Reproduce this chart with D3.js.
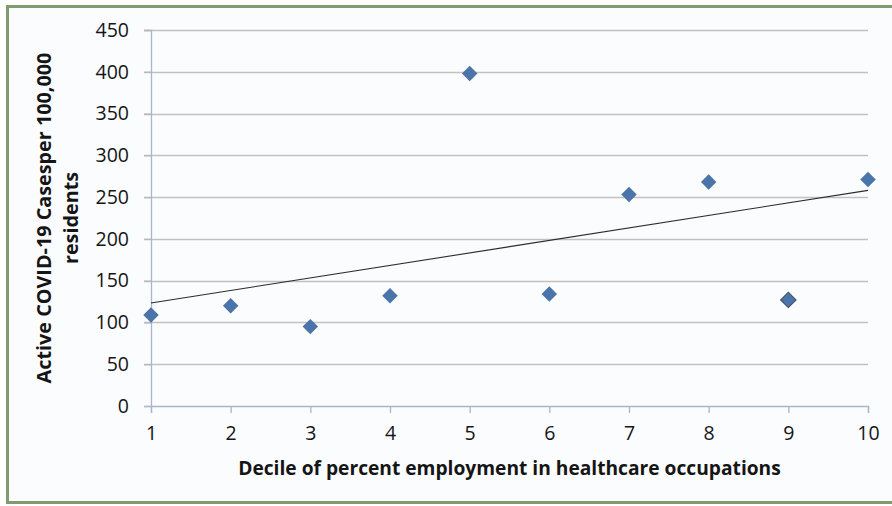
<!DOCTYPE html>
<html>
<head>
<meta charset="utf-8">
<script src="https://cdn.jsdelivr.net/npm/d3@7"></script>
<style>
  html, body { margin: 0; padding: 0; background: #ffffff; }
  svg { display: block; }
  text { font-family: "Open Sans", "Noto Sans", sans-serif; fill: #151515; }
</style>
</head>
<body>
<svg id="chart" width="892" height="506"></svg>
<script>
// Decile of healthcare employment vs. active case rate
const deciles = [1, 2, 3, 4, 5, 6, 7, 8, 9, 10];
const casesPer100k = [109, 120, 95, 132, 398, 134, 253, 268, 127, 271];
const yTicks = [0, 50, 100, 150, 200, 250, 300, 350, 400, 450];
const xTicks = [1, 2, 3, 4, 5, 6, 7, 8, 9, 10];
const xTitle = "Decile of percent employment in healthcare occupations";
const yTitleLines = ["Active COVID-19 Casesper 100,000", "residents"];

const svg = d3.select("#chart");
const W = 892, H = 506;

// Frame
svg.append("rect").attr("x", 0).attr("y", 0).attr("width", W).attr("height", H).attr("fill", "#ffffff");
svg.append("rect")
  .attr("x", 7.5).attr("y", 6.5).attr("width", W + 10).attr("height", 496)
  .attr("fill", "#fbfcfe").attr("stroke", "#7f9a6d").attr("stroke-width", 3);

const x = d3.scaleLinear().domain([1, 10]).range([151, 868]);
const y = d3.scaleLinear().domain([0, 450]).range([406, 30]);

// Horizontal gridlines
svg.append("g")
  .selectAll("line").data(yTicks.filter(v => v > 0)).join("line")
  .attr("x1", 144).attr("x2", x(10))
  .attr("y1", d => Math.round(y(d)) + 0.5).attr("y2", d => Math.round(y(d)) + 0.5)
  .attr("stroke", "#c3c0bd").attr("stroke-width", 1.5);

// Y axis
const yAxis = d3.axisLeft(y).tickValues(yTicks).tickSize(7).tickPadding(15).tickFormat(d3.format("d"));
const gy = svg.append("g").attr("transform", `translate(${x(1)},0)`).call(yAxis);
gy.select(".domain").attr("stroke", "#a9b6c6").attr("stroke-width", 1.3);
gy.selectAll(".tick line").attr("stroke", "#b3b9c2").attr("stroke-width", 1.3);
gy.selectAll(".tick text").attr("font-size", 19.5).attr("font-family", "Open Sans").attr("fill", "#151515");

// X axis
const xAxis = d3.axisBottom(x).tickValues(xTicks).tickSize(7).tickPadding(13).tickFormat(d3.format("d"));
const gx = svg.append("g").attr("transform", `translate(0,${y(0)})`).call(xAxis);
gx.select(".domain").attr("stroke", "#a9b6c6").attr("stroke-width", 1.3);
gx.selectAll(".tick line").attr("stroke", "#a9b6c6").attr("stroke-width", 1.3);
gx.selectAll(".tick text").attr("font-size", 19.5).attr("font-family", "Open Sans").attr("fill", "#151515");

// Linear trend line (least squares)
const mx = d3.mean(deciles), my = d3.mean(casesPer100k);
const sxy = d3.sum(deciles, (d, i) => (d - mx) * (casesPer100k[i] - my));
const sxx = d3.sum(deciles, d => (d - mx) * (d - mx));
const slope = sxy / sxx, intercept = my - slope * mx;
svg.append("line")
  .attr("x1", x(1)).attr("y1", y(intercept + slope * 1))
  .attr("x2", x(10)).attr("y2", y(intercept + slope * 10))
  .attr("stroke", "#2b2b2b").attr("stroke-width", 1.1);

// Points
const diamond = d3.symbol().type(d3.symbolSquare).size(120);
svg.append("g").selectAll("path").data(deciles).join("path")
  .attr("d", diamond)
  .attr("transform", (d, i) => `translate(${x(d)},${y(casesPer100k[i])}) rotate(45)`)
  .attr("fill", "#4a74aa")
  .attr("stroke", d => d === 9 ? "#3d4a5c" : "none")
  .attr("stroke-width", 1);

// Axis titles
svg.append("text")
  .attr("x", (x(1) + x(10)) / 2).attr("y", 475)
  .attr("text-anchor", "middle").attr("font-size", 19.2).attr("font-weight", 700)
  .text(xTitle);

const yt = svg.append("text")
  .attr("transform", `translate(51,${(y(0) + y(450)) / 2}) rotate(-90)`)
  .attr("text-anchor", "middle").attr("font-size", 19.8).attr("font-weight", 700);
yTitleLines.forEach((t, i) => {
  yt.append("tspan").attr("x", 0).attr("dy", i === 0 ? 0 : 27).text(t);
});
</script>
</body>
</html>
